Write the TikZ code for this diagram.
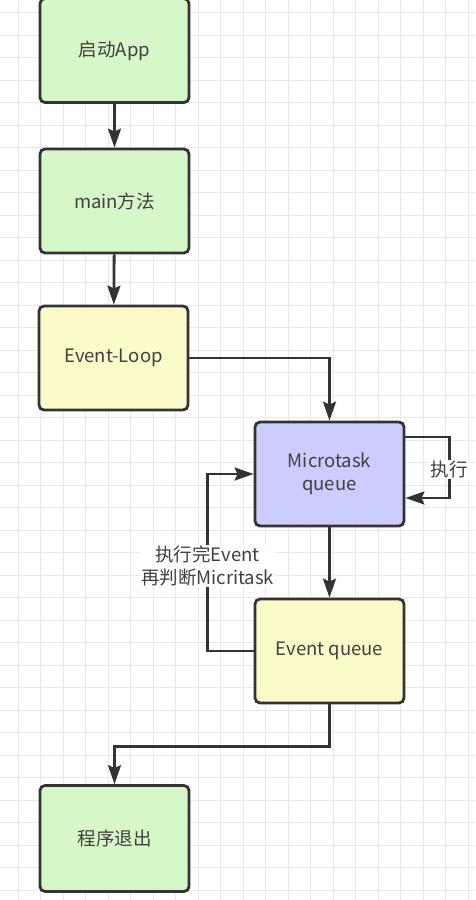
\documentclass[tikz,border=0pt]{standalone}
\usepackage{fontspec}
\setmainfont{Noto Sans CJK SC}
\usetikzlibrary{arrows.meta}
\definecolor{boxline}{HTML}{333333}
\definecolor{gridgray}{HTML}{E8E8E8}
\definecolor{startgreen}{HTML}{D6F8C9}
\definecolor{loopyellow}{HTML}{FBFBC9}
\definecolor{microblue}{HTML}{CCCCFF}
\begin{document}
\begin{tikzpicture}[x=1pt,y=-1pt,
		block/.style={draw=boxline,line width=2.8pt,rounded corners=5pt,minimum width=149pt,minimum height=104pt,text=black!75,font=\fontsize{18.5}{23}\selectfont,align=center},
		flow/.style={draw=boxline,line width=2.8pt,-{Stealth[length=19pt,width=13pt,inset=3pt]}},
		note/.style={fill=white,text=black!75,font=\fontsize{18.5}{23}\selectfont,align=center,inner sep=1pt}]
			\useasboundingbox (0,0) rectangle (475,900);
			\fill[white] (0,0) rectangle (475,900);
			\foreach \i in {0,...,20} \draw[gridgray,line width=1pt] ({18+22.5*\i},0) -- ({18+22.5*\i},900);
			\foreach \j in {0,...,39} \draw[gridgray,line width=1pt] (0,{12.5+22.5*\j}) -- (475,{12.5+22.5*\j});
			\node[block,fill=startgreen] (app) at (114.5,50.5) {启动App};
			\node[block,fill=startgreen] (main) at (114.5,201) {main方法};
			\node[block,fill=loopyellow] (loop) at (113.5,358) {Event-Loop};
			\node[block,fill=microblue] (micro) at (329.5,474) {Microtask\\queue};
			\node[block,fill=loopyellow] (event) at (329.5,651) {Event queue};
			\node[block,fill=startgreen,minimum height=106pt] (quit) at (114.5,838.5) {程序退出};
			\draw[flow] (app) -- (main);
			\draw[flow] (main) -- (loop);
			\draw[flow] (loop.east) -| (micro.north);
			\draw[flow] ([yshift=37pt]micro.east) -- ++(44,0) |- node[note,pos=0.27] {执行} ([yshift=-24pt]micro.east);
			\draw[flow] (micro) -- (event);
			\draw[flow] (event.west) -- ++(-46,0) |- node[note,pos=0.24] {执行完Event\\再判断Micritask} (micro.west);
			\draw[flow] (event.south) -- ++(0,42) -| (quit.north);
		\end{tikzpicture}
\end{document}
